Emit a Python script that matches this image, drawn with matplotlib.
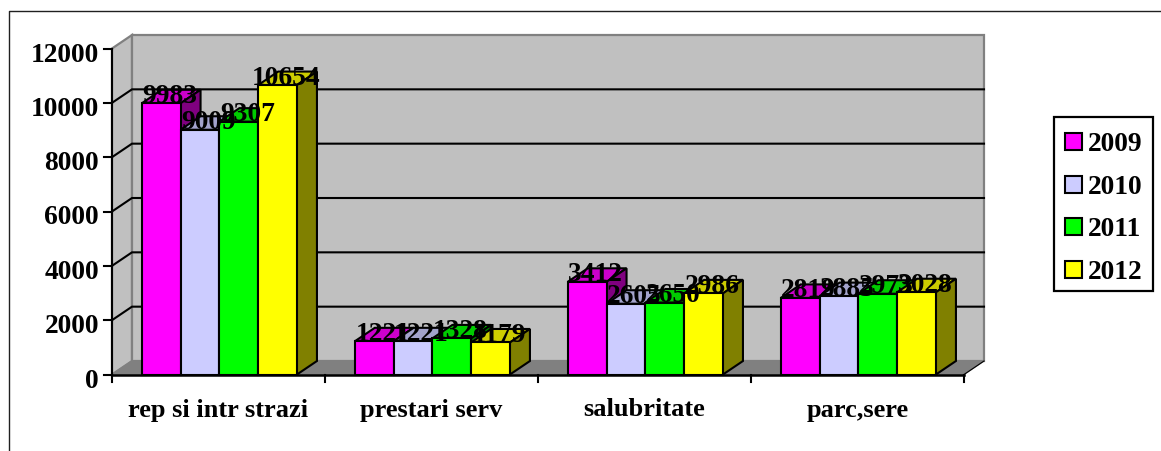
import matplotlib
matplotlib.use("Agg")
import matplotlib.pyplot as plt
from matplotlib.patches import Polygon, Rectangle
from matplotlib.colors import to_rgb

categories = ["rep si intr strazi", "prestari serv", "salubritate", "parc,sere"]
years = ["2009", "2010", "2011", "2012"]
v2009 = [9983, 1221, 3412, 2819]
v2010 = [9009, 1221, 2605, 2885]
v2011 = [9307, 1328, 2650, 2973]
v2012 = [10654, 1179, 2986, 3028]
series = [v2009, v2010, v2011, v2012]
colors = ["#ff00ff", "#ccccff", "#00ff00", "#ffff00"]
yticks = [0, 2000, 4000, 6000, 8000, 10000, 12000]

W, H = 1161, 451
plt.rcParams["font.family"] = ["Liberation Serif", "DejaVu Serif"]
plt.rcParams["font.weight"] = "bold"
fig = plt.figure(figsize=(W / 100, H / 100), dpi=100, facecolor="white")
L, R, T, B = 112, 964, 48.5, 374.5
ax = fig.add_axes([L / W, 1 - B / H, (R - L) / W, (B - T) / H])
ax.set_xlim(0, 4)
ax.set_ylim(0, 12000)
ax.axis("off")

DX = 20 / ((R - L) / 4)
DY = 13.5 / ((B - T) / 12000)
BW = 38.8 / ((R - L) / 4)
LW = 1.5
G = "#808080"


def poly(pts, fc, ec="black", lw=LW, z=2):
    ax.add_patch(Polygon(pts, closed=True, fc=fc, ec=ec, lw=lw, zorder=z,
                         clip_on=False, joinstyle="miter"))


def shade(c, f):
    return tuple(x * f for x in to_rgb(c))


ymax = yticks[-1]
# walls and floor
poly([(0, 0), (DX, DY), (DX, ymax + DY), (0, ymax)], "#c0c0c0", G, 1.6, 1)
poly([(DX, DY), (4 + DX, DY), (4 + DX, ymax + DY), (DX, ymax + DY)], "#c0c0c0", G, 1.6, 1)
poly([(0, 0), (4, 0), (4 + DX, DY), (DX, DY)], G, G, 1.0, 1.1)
ax.plot([4, 4 + DX], [0, DY], color="black", lw=0.8, zorder=1.2, clip_on=False)
# gridlines
for t in yticks[1:-1]:
    ax.plot([0, DX, 4 + DX], [t, t + DY, t + DY], color="black", lw=LW, zorder=1.3,
            clip_on=False, solid_joinstyle="miter")
# axes and ticks
ax.plot([0, 0], [0, ymax], color="black", lw=LW, zorder=1.4, clip_on=False)
ax.plot([0, 4], [0, 0], color="black", lw=1.8, zorder=5, clip_on=False)
ax.set_xticks([])
tpx = 8 / ((R - L) / 4)
for t in yticks:
    ax.plot([-tpx, 0], [t, t], color="black", lw=LW, zorder=5, clip_on=False)
    ax.annotate(f"{t}", (0, t), xytext=(-13, -3.5), textcoords="offset pixels", ha="right",
                va="center_baseline", fontsize=19.8, fontweight="bold", zorder=6)
for i in range(5):
    ax.plot([i, i], [0, -7 / ((B - T) / 12000)], color="black", lw=LW, zorder=5, clip_on=False)
for i, c in enumerate(categories):
    ax.annotate(c, (i + 0.5, 0), xytext=(0, -33), textcoords="offset pixels", ha="center",
                va="center_baseline", fontsize=19, fontweight="bold", zorder=6)
# bars
z = 2.0
for g in range(len(categories)):
    x0 = g + 0.5 - 2 * BW + 0.004
    for s, (vals, col) in enumerate(zip(series, colors)):
        v = vals[g]
        a, b = x0 + s * BW, x0 + (s + 1) * BW
        poly([(a, v), (b, v), (b + DX, v + DY), (a + DX, v + DY)],
             shade(col, 0.8), z=z)
        poly([(b, 0), (b + DX, DY), (b + DX, v + DY), (b, v)], shade(col, 0.5), z=z)
        poly([(a, 0), (b, 0), (b, v), (a, v)], col, z=z + 0.1)
        z += 0.2
for g in range(len(categories)):
    x0 = g + 0.5 - 2 * BW + 0.004
    for s, vals in enumerate(series):
        v = vals[g]
        ax.annotate(f"{v}", (x0 + (s + 0.5) * BW, v), xytext=(8.5, 10), textcoords="offset pixels",
                    ha="center", va="center_baseline", fontsize=19.8, fontweight="bold",
                    zorder=20, clip_on=False)

# outer frame and legend, in figure pixels
fig.add_artist(plt.Line2D([8.5 / W, 8.5 / W, 1], [0, 1 - 10.5 / H, 1 - 10.5 / H],
                          color="#202020", lw=1.0))
fig.add_artist(Rectangle((1054 / W, 1 - 291 / H), 99 / W, 174 / H, transform=fig.transFigure,
                         fc="white", ec="black", lw=1.6))
for i, (y, col) in enumerate(zip(years, colors)):
    yc = 141.5 + i * 42.7
    fig.add_artist(Rectangle((1064.5 / W, 1 - (yc + 8.5) / H), 17 / W, 17 / H,
                             transform=fig.transFigure, fc=col, ec="black", lw=1.5))
    fig.text(1087.5 / W, 1 - yc / H, y, ha="left", va="center_baseline", fontsize=19.8,
             fontweight="bold")

fig.savefig("out.png", dpi=100, facecolor="white")
